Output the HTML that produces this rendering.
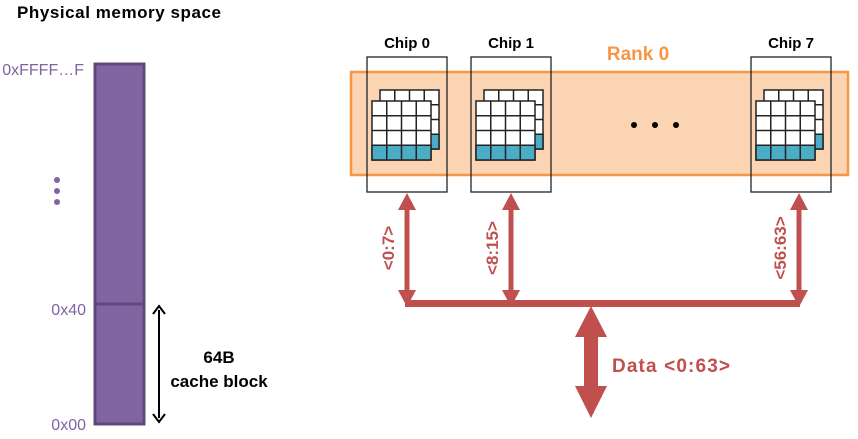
<!DOCTYPE html>
<html><head><style>body{margin:0;background:#fff}svg{display:block}</style></head><body>
<svg width="858" height="439" viewBox="0 0 858 439" xmlns="http://www.w3.org/2000/svg" font-family="Liberation Sans, sans-serif">
<defs>
<g id="grid">
  <rect x="0" y="0" width="59" height="59" fill="#fff" stroke="#222" stroke-width="1.5"/>
  <rect x="0" y="44.25" width="59" height="14.75" fill="#4bacc6" stroke="#222" stroke-width="1.5"/>
  <path d="M14.75 0V59M29.5 0V59M44.25 0V59M0 14.75H59M0 29.5H59M0 44.25H59" stroke="#222" stroke-width="1.5"/>
</g>
<g id="chip">
  <use href="#grid" x="8" y="-11"/>
  <use href="#grid" x="0" y="0"/>
</g>
</defs>
<text x="17" y="18" font-size="17" font-weight="bold" fill="#000" textLength="204">Physical memory space</text>
<rect x="95" y="64" width="49" height="360" fill="#8064a2" stroke="#5f497a" stroke-width="3"/>
<line x1="95" y1="304" x2="144" y2="304" stroke="#5f497a" stroke-width="3"/>
<text x="84" y="75" font-size="16" fill="#8064a2" text-anchor="end">0xFFFF…F</text>
<text x="86" y="315" font-size="16" fill="#8064a2" text-anchor="end">0x40</text>
<text x="86" y="430" font-size="16" fill="#8064a2" text-anchor="end">0x00</text>
<circle cx="57" cy="180" r="3" fill="#8064a2"/><circle cx="57" cy="191" r="3" fill="#8064a2"/><circle cx="57" cy="202" r="3" fill="#8064a2"/>
<line x1="159" y1="310" x2="159" y2="418" stroke="#000" stroke-width="2"/>
<path d="M153 314L159 306L165 314M153 414L159 422L165 414" fill="none" stroke="#000" stroke-width="2"/>
<text x="219" y="363" font-size="17" font-weight="bold" text-anchor="middle">64B</text>
<text x="219" y="387" font-size="17" font-weight="bold" text-anchor="middle">cache block</text>

<rect x="351" y="72" width="497" height="103" fill="#fbd4b4" stroke="#f79646" stroke-width="2.5"/>
<text x="638" y="60" font-size="19" font-weight="bold" fill="#f79646" text-anchor="middle">Rank 0</text>
<circle cx="634" cy="125" r="3" fill="#000"/><circle cx="655" cy="125" r="3" fill="#000"/><circle cx="676" cy="125" r="3" fill="#000"/>

<rect x="367" y="57" width="80" height="135" fill="none" stroke="#222" stroke-width="1.3"/>
<rect x="471" y="57" width="80" height="135" fill="none" stroke="#222" stroke-width="1.3"/>
<rect x="751" y="57" width="80" height="135" fill="none" stroke="#222" stroke-width="1.3"/>
<use href="#chip" x="372" y="101"/>
<use href="#chip" x="476" y="101"/>
<use href="#chip" x="756" y="101"/>
<text x="407" y="48" font-size="15" font-weight="bold" text-anchor="middle">Chip 0</text>
<text x="511" y="48" font-size="15" font-weight="bold" text-anchor="middle">Chip 1</text>
<text x="791" y="48" font-size="15" font-weight="bold" text-anchor="middle">Chip 7</text>

<g fill="#c0504d" stroke="none">
  <rect x="405" y="300" width="395" height="7"/>
  <rect x="404.5" y="200" width="5" height="98"/>
  <path d="M398 210L407 193L416 210Z M398 290L407 307L416 290Z"/>
  <rect x="508.5" y="200" width="5" height="98"/>
  <path d="M502 210L511 193L520 210Z M502 290L511 307L520 290Z"/>
  <rect x="796.5" y="200" width="5" height="98"/>
  <path d="M790 210L799 193L808 210Z M790 290L799 307L808 290Z"/>
  <rect x="584" y="330" width="14" height="60"/>
  <path d="M575 337L591 306L607 337Z M575 386L591 418L607 386Z"/>
</g>
<g font-size="17" font-weight="bold" fill="#c0504d">
  <text transform="translate(394,248) rotate(-90)" text-anchor="middle">&lt;0:7&gt;</text>
  <text transform="translate(498,248) rotate(-90)" text-anchor="middle">&lt;8:15&gt;</text>
  <text transform="translate(786,248) rotate(-90)" text-anchor="middle">&lt;56:63&gt;</text>
  <text x="612" y="372" font-size="19" textLength="118">Data &lt;0:63&gt;</text>
</g>
</svg>
</body></html>
